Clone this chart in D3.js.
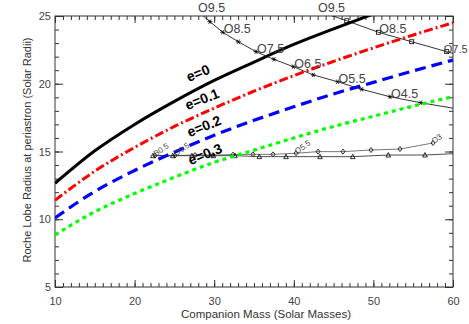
<!DOCTYPE html>
<html><head><meta charset="utf-8">
<script src="https://cdn.jsdelivr.net/npm/d3@7"></script>
<style>body{margin:0;background:#fff}svg{display:block}</style>
</head><body>
<svg id="c" width="469" height="324"></svg>
<script>
// ---- data ----
const massX = [10,15,20,25,30,35,40,45,50,55,60];
const rocheE0  = [12.65,15.05,17.0,18.7,20.25,21.6,22.9,24.05,25.15,26.2,27.2];
const rocheE01 = [11.4,13.55,15.3,16.85,18.2,19.45,20.6,21.65,22.65,23.6,24.5];
const rocheE02 = [10.1,12.05,13.6,14.95,16.2,17.3,18.3,19.25,20.1,20.95,21.75];
const rocheE03 = [8.85,10.55,11.9,13.1,14.2,15.1,16.0,16.85,17.6,18.35,19.05];
const eLabels = ["e=0","e=0.1","e=0.2","e=0.3"];

const trackAMass   = [27.84,29.47,31.07,33.03,35.25,37.51,39.94,42.45,45.5,48.53,52.09,55.94,60.5];
const trackARadius = [25.4,24.58,23.8,23.1,22.37,21.8,21.26,20.65,20.15,19.59,19.04,18.6,18.15];
const trackALabels = ["O9.5","","O8.5","","O7.5","","O6.5","","O5.5","","O4.5","",""];

const trackBMass   = [42.91,46.65,50.62,54.81,59.21,63.6];
const trackBRadius = [25.4,24.65,23.8,23.1,22.37,21.68];
const trackBLabels = ["O9.5","","O8.5","","O7.5",""];

const trackCMass   = [22.56,25.08,27.59,29.85,32.36,34.87,37.39,40.28,43.04,46.18,49.7,53.34,57.49];
const trackCRadius = [14.70,14.70,14.74,14.74,14.77,14.79,14.79,14.87,14.99,14.99,15.11,15.18,15.63];
const trackCLabels = ["B0.5","O9.5","","","","","","O5.5","","","","","O3"];

const trackDMass   = [22.3,24.8,27.2,29.89,32.61,35.67,39.02,43.29,47.4,51.87,56.48,60.5];
const trackDRadius = [14.69,14.69,14.69,14.69,14.69,14.62,14.62,14.62,14.62,14.74,14.74,14.85];

const xTicks = [10,20,30,40,50,60];
const yTicks = [5,10,15,20,25];

// ---- layout ----
const L=55, R=453, T=16, B=287;
const svg = d3.select("#c");
const x = d3.scaleLinear().domain([10,60]).range([L,R]);
const y = d3.scaleLinear().domain([5,25]).range([B,T]);
const minorX = d3.range(10,61,1), minorY = d3.range(5,26,1);

svg.append("defs").append("clipPath").attr("id","clip")
  .append("rect").attr("x",L).attr("y",T).attr("width",R-L).attr("height",B-T);

const axisCol = "#333", font = "'Liberation Sans', Arial, sans-serif";
function styleAxis(g, labels){
  g.select(".domain").remove();
  g.selectAll("line").attr("stroke",axisCol).attr("stroke-width",1);
  g.selectAll("text").attr("fill","#444").style("font-family",font).style("font-size","11px");
  if(!labels) g.selectAll("text").remove();
}
// minor ticks
svg.append("g").attr("transform",`translate(0,${B})`).call(d3.axisTop(x).tickValues(minorX).tickSize(4).tickFormat("")).call(styleAxis,false);
svg.append("g").attr("transform",`translate(0,${T})`).call(d3.axisBottom(x).tickValues(minorX).tickSize(4).tickFormat("")).call(styleAxis,false);
svg.append("g").attr("transform",`translate(${L},0)`).call(d3.axisRight(y).tickValues(minorY).tickSize(4).tickFormat("")).call(styleAxis,false);
svg.append("g").attr("transform",`translate(${R},0)`).call(d3.axisLeft(y).tickValues(minorY).tickSize(4).tickFormat("")).call(styleAxis,false);
// major ticks
const bx = svg.append("g").attr("transform",`translate(0,${B})`).call(d3.axisBottom(x).tickValues(xTicks).tickSizeInner(-7).tickSizeOuter(0).tickPadding(10).tickFormat(d3.format("d")));
styleAxis(bx,true);
svg.append("g").attr("transform",`translate(0,${T})`).call(d3.axisTop(x).tickValues(xTicks).tickSizeInner(-7).tickSizeOuter(0).tickFormat("")).call(styleAxis,false);
const ly = svg.append("g").attr("transform",`translate(${L},0)`).call(d3.axisLeft(y).tickValues(yTicks).tickSizeInner(-8).tickSizeOuter(0).tickPadding(4).tickFormat(d3.format("d")));
styleAxis(ly,true);
svg.append("g").attr("transform",`translate(${R},0)`).call(d3.axisRight(y).tickValues(yTicks).tickSizeInner(-8).tickSizeOuter(0).tickFormat("")).call(styleAxis,false);
// frame
svg.append("rect").attr("x",L).attr("y",T).attr("width",R-L).attr("height",B-T)
  .attr("fill","none").attr("stroke",axisCol).attr("stroke-width",1);

// axis titles
svg.append("text").attr("x",266).attr("y",318).attr("text-anchor","middle")
  .style("font-family",font).style("font-size","11.5px").attr("fill","#333")
  .text("Companion Mass (Solar Masses)");
svg.append("text").attr("transform",`translate(31,150) rotate(-90)`).attr("text-anchor","middle")
  .style("font-family",font).style("font-size","11px").attr("fill","#333")
  .text("Roche Lobe Radius at periastron (Solar Radii)");

const plot = svg.append("g").attr("clip-path","url(#clip)");
const line = d3.line().x(d=>x(d[0])).y(d=>y(d[1]));

// spectral-type tracks
function track(mass, rad, sym, col){
  const pts = mass.map((m,i)=>[m,rad[i]]);
  plot.append("path").attr("d",line(pts)).attr("fill","none").attr("stroke",col).attr("stroke-width",0.8);
  const g = plot.append("g");
  pts.forEach(p=>{
    const cx=x(p[0]), cy=y(p[1]);
    if(sym==="star"){
      g.append("path").attr("d",`M${cx-2.5},${cy}h5M${cx-1.3},${cy-2.2}l2.6,4.4M${cx+1.3},${cy-2.2}l-2.6,4.4`)
        .attr("stroke","#000").attr("stroke-width",0.8);
    } else if(sym==="square"){
      g.append("rect").attr("x",cx-2).attr("y",cy-2).attr("width",4).attr("height",4)
        .attr("fill","none").attr("stroke","#000").attr("stroke-width",0.8);
    } else if(sym==="diamond"){
      g.append("path").attr("d",`M${cx},${cy-2.5}L${cx+2},${cy}L${cx},${cy+2.5}L${cx-2},${cy}Z`)
        .attr("fill","none").attr("stroke","#000").attr("stroke-width",0.8);
    } else {
      g.append("path").attr("d",`M${cx},${cy-2.5}L${cx+2.3},${cy+2}L${cx-2.3},${cy+2}Z`)
        .attr("fill","none").attr("stroke","#000").attr("stroke-width",0.8);
    }
  });
}
track(trackAMass,trackARadius,"star","#000");
track(trackBMass,trackBRadius,"square","#000");
track(trackCMass,trackCRadius,"diamond","#555");
track(trackDMass,trackDRadius,"tri","#222");

function trackLabels(mass, rad, labels, size, rot){
  mass.forEach((m,i)=>{
    if(!labels[i]) return;
    let px = x(m)+1, fs = size;
    if(px + size*2.2 > 468){ fs = size-1.5; px = Math.min(px, 468 - fs*2.2); }
    svg.append("text").attr("transform",`translate(${px},${y(rad[i])+1}) rotate(${rot})`)
      .style("font-family",font).style("font-size",fs+"px").attr("fill","#444").text(labels[i]);
  });
}
trackLabels(trackAMass,trackARadius,trackALabels,12.5,0);
trackLabels(trackBMass,trackBRadius,trackBLabels,12.5,0);
trackLabels(trackCMass,trackCRadius,trackCLabels,8,-35);

// Roche-lobe curves
const series = [
  {v:rocheE0,  col:"#000",   dash:null,       w:3},
  {v:rocheE01, col:"#ff0000",dash:"9,3,2,3",  w:3},
  {v:rocheE02, col:"#0000ff",dash:"11,6",     w:3.2},
  {v:rocheE03, col:"#00ff00",dash:"4,4",      w:3.2}
];
const curve = d3.line().curve(d3.curveMonotoneX).x(d=>x(d[0])).y(d=>y(d[1]));
series.forEach(s=>{
  plot.append("path").attr("d",curve(massX.map((m,i)=>[m,s.v[i]])))
    .attr("fill","none").attr("stroke",s.col).attr("stroke-width",s.w)
    .attr("stroke-dasharray",s.dash);
});

// e labels
const ePos = [[198,73],[202,99],[204,126],[205,154]];
eLabels.forEach((t,i)=>{
  svg.append("text").attr("transform",`translate(${ePos[i][0]},${ePos[i][1]}) rotate(-22)`)
    .attr("text-anchor","middle").attr("dominant-baseline","central")
    .style("font-family",font).style("font-size","14px").style("font-weight","bold")
    .attr("fill","#000").text(t);
});
</script>
</body></html>
